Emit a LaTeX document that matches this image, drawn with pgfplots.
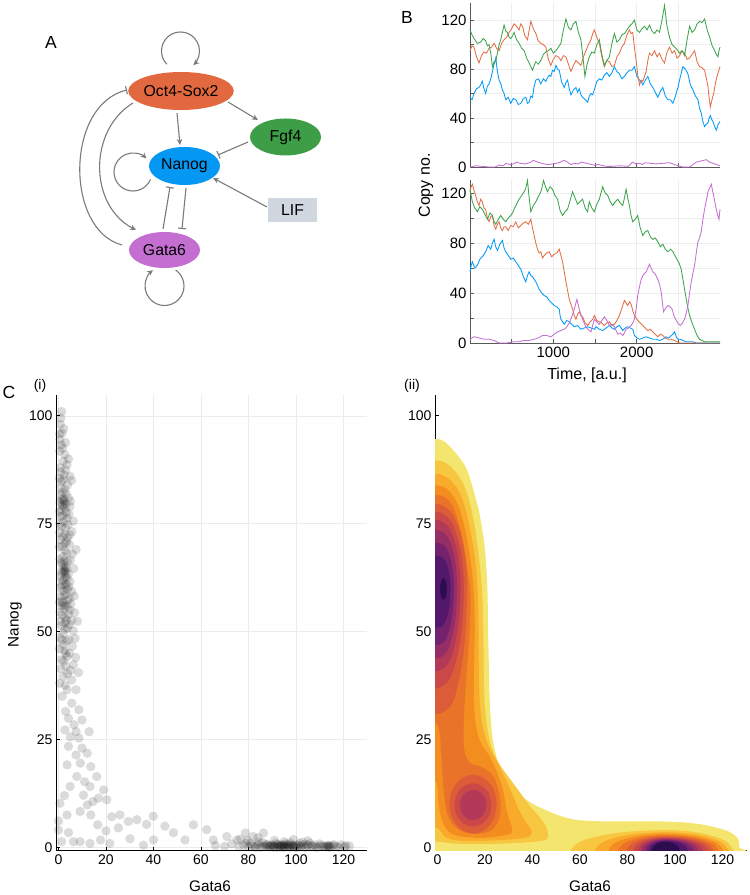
\documentclass[border=0pt]{standalone}
\usepackage{fontspec}
\setmainfont{Liberation Sans}
\usepackage{pgfplots}
\pgfplotsset{compat=1.18}
\usetikzlibrary{arrows.meta,shapes.geometric}
\definecolor{jblue}{HTML}{009AFA}
\definecolor{jorange}{HTML}{E26F46}
\definecolor{jgreen}{HTML}{3DA44D}
\definecolor{jpurple}{HTML}{C371D2}
\definecolor{noct}{HTML}{E2693F}
\definecolor{nfgf}{HTML}{3E9E48}
\definecolor{nnanog}{HTML}{0598F2}
\definecolor{ngata}{HTML}{C46ED2}
\definecolor{nlif}{HTML}{D0D7DF}
\definecolor{egray}{HTML}{7A7A7A}
\definecolor{c1}{HTML}{F3E56E}
\definecolor{c2}{HTML}{F8C741}
\definecolor{c3}{HTML}{F9AA2A}
\definecolor{c4}{HTML}{F48D20}
\definecolor{c5}{HTML}{EA732A}
\definecolor{c6}{HTML}{DC5B38}
\definecolor{c7}{HTML}{CA4848}
\definecolor{c8}{HTML}{B23A58}
\definecolor{c9}{HTML}{952D66}
\definecolor{c10}{HTML}{74216E}
\definecolor{c11}{HTML}{53176C}
\definecolor{c12}{HTML}{2B0D50}
\pgfplotsset{
  Bstyle/.style={scale only axis, width=250pt, xmin=0, xmax=3000, ymin=0,
    axis lines*=left, axis line style={black!65, line width=0.8pt},
    xtick={500,1000,1500,2000,2500}, ytick={0,20,40,60,80,100,120},
    yticklabels={0,,40,,80,,120}, grid=major, grid style={black!7, line width=0.5pt},
    tick align=inside, major tick length=3.5pt, tick style={black!65, line width=0.7pt},
    tick label style={font=\fontsize{15}{15}\selectfont}, clip=false},
  Cstyle/.style={scale only axis, height=456pt, ymin=-0.79, ymax=104.9, xmin=-1.05,
    axis lines*=left, axis line style={black, line width=0.9pt},
    xtick={0,20,40,60,80,100,120}, ytick={0,25,50,75,100},
    xticklabels={0,20,40,60,80,100,120}, yticklabels={0,25,50,75,100},
    tick align=inside, major tick length=4pt, tick style={black, line width=0.7pt},
    tick label style={font=\fontsize{14}{14}\selectfont}},
  ts/.style={line width=0.85pt},
  lev/.style={draw=none, fill=#1, smooth, tension=0.55}
}
\begin{document}
\begin{tikzpicture}
\useasboundingbox (0pt,0pt) rectangle (750pt,895pt);
% ---------------- Panel A and free labels ----------------
\begin{scope}[x=1pt,y=1pt]
\node[font=\fontsize{17.5}{17.5}\selectfont] at (51,853) {A};
\tikzset{nd/.style={ellipse, inner sep=0pt, font=\fontsize{15.8}{16}\selectfont},
  act/.style={draw=egray, line width=1.1pt, -{Stealth[length=6pt, width=5.5pt]}},
  inh/.style={draw=egray, line width=1.1pt, -{Bar[width=8pt, line width=1.1pt]}}}
\node[nd, fill=noct, minimum width=102pt, minimum height=38pt] at (181,804) {Oct4-Sox2};
\node[nd, fill=nfgf, minimum width=71pt, minimum height=37pt] at (285.5,758) {Fgf4};
\node[nd, fill=nnanog, minimum width=71pt, minimum height=38pt] at (184.5,729) {Nanog};
\node[rectangle, fill=nlif, minimum width=49pt, minimum height=24pt, inner sep=0pt, font=\fontsize{15.8}{16}\selectfont] at (292.5,685) {LIF};
\node[nd, fill=ngata, minimum width=71pt, minimum height=36pt] at (164.5,645) {Gata6};
\draw[act] (177,782) -- (180,750);
\draw[act] (228,793) -- (258,775);
\draw[inh] (248,753) -- (218,740);
\draw[act] (267,688) -- (213,717);
\draw[inh] (163,666) -- (170,708);
\draw[inh] (186,707) -- (182,666);
\draw[act] (133,792) .. controls (88.5,765) and (88.5,690) .. (136,665);
\draw[inh] (122,650) .. controls (65,665) and (65,790) .. (127,805);
\draw[act] (180.5,844) ++(224:19pt) arc[start angle=224, end angle=-48, radius=19pt];
\draw[act] (133,723) ++(-23:19pt) arc[start angle=-23, end angle=-315, radius=19pt];
\draw[act] (164.5,609) ++(55:19.5pt) arc[start angle=55, end angle=-234, radius=19.5pt];
\node[font=\fontsize{17.5}{17.5}\selectfont] at (407,878) {B};
\node[rotate=90, font=\fontsize{16}{16}\selectfont] at (426,709.5) {Copy no.};
\node[font=\fontsize{16}{16}\selectfont] at (587,520) {Time, [a.u.]};
\node[font=\fontsize{17.5}{17.5}\selectfont] at (9,503) {C};
\node[font=\fontsize{14}{14}\selectfont] at (40,509) {(i)};
\node[font=\fontsize{14}{14}\selectfont] at (412,509) {(ii)};
\node[rotate=90, font=\fontsize{15.3}{16}\selectfont] at (15,270) {Nanog};
\node[font=\fontsize{15.3}{16}\selectfont] at (210,9) {Gata6};
\node[font=\fontsize{15.3}{16}\selectfont] at (590,9) {Gata6};
\end{scope}
% ---------------- Panel B ----------------
\begin{axis}[at={(470pt,728pt)}, anchor=south west, Bstyle, height=164pt, ymax=134, xticklabels={}]
\addplot[ts, jblue] coordinates {(0,57)(24,55)(48,60)(78,64)(108,65)(128,67)(148,70)(168,64)(188,60)(208,66)(229,68)(249,72)(269,78)(289,84)(309,89)(329,78)(349,71)(369,68)(389,63)(409,60)(429,55)(459,57)(489,52)(519,56)(549,55)(580,51)(610,52)(640,56)(670,57)(690,52)(710,53)(730,58)(750,57)(770,66)(790,71)(820,72)(850,68)(880,72)(910,70)(930,73)(950,75)(970,74)(990,79)(1010,78)(1031,83)(1051,80)(1071,79)(1101,69)(1131,65)(1151,69)(1171,71)(1191,64)(1211,59)(1241,63)(1271,65)(1291,61)(1311,64)(1331,59)(1351,57)(1382,55)(1412,53)(1432,58)(1452,60)(1472,59)(1492,63)(1522,70)(1552,72)(1582,71)(1612,75)(1642,77)(1673,74)(1703,77)(1733,82)(1763,78)(1793,76)(1823,72)(1853,74)(1883,77)(1913,79)(1943,79)(1973,82)(2003,74)(2034,71)(2054,70)(2074,67)(2104,71)(2134,74)(2164,68)(2194,65)(2224,61)(2254,57)(2284,62)(2314,65)(2344,58)(2374,55)(2404,55)(2435,52)(2465,58)(2495,65)(2525,74)(2555,82)(2585,80)(2615,76)(2645,67)(2675,63)(2705,58)(2735,55)(2755,48)(2775,44)(2795,37)(2815,33)(2835,35)(2855,36)(2870,40)(2884,42)(2900,39)(2916,37)(2936,33)(2956,30)(2978,35)(3000,37)};
\addplot[ts, jorange] coordinates {(0,95)(24,99)(48,98)(78,90)(108,85)(138,91)(168,94)(198,93)(229,97)(259,98)(289,101)(319,97)(349,95)(379,101)(409,104)(439,106)(469,110)(499,113)(529,117)(559,115)(589,112)(610,117)(630,115)(660,107)(690,104)(710,112)(730,119)(760,113)(790,109)(820,103)(850,101)(880,100)(910,98)(940,88)(970,83)(1000,88)(1031,91)(1061,90)(1091,87)(1121,91)(1151,90)(1181,84)(1211,78)(1241,83)(1271,87)(1301,85)(1331,83)(1361,90)(1391,95)(1421,100)(1452,104)(1472,109)(1492,112)(1522,106)(1552,101)(1582,90)(1612,82)(1642,87)(1673,86)(1703,82)(1733,83)(1763,90)(1793,93)(1823,98)(1853,101)(1883,108)(1913,112)(1933,109)(1953,110)(1973,98)(1993,87)(2014,75)(2034,67)(2054,71)(2074,70)(2094,74)(2114,78)(2134,87)(2154,93)(2184,91)(2214,95)(2244,90)(2274,93)(2304,88)(2334,85)(2364,94)(2394,98)(2425,93)(2455,95)(2485,89)(2515,91)(2545,95)(2575,93)(2605,88)(2635,89)(2665,92)(2695,95)(2725,86)(2755,82)(2785,81)(2815,79)(2835,73)(2855,66)(2870,56)(2884,49)(2904,55)(2924,60)(2944,68)(2964,74)(2982,78)(3000,82)};
\addplot[ts, jgreen] coordinates {(0,112)(24,108)(48,105)(88,101)(128,102)(158,105)(188,103)(208,99)(229,100)(249,93)(269,82)(289,86)(309,86)(319,90)(329,93)(349,100)(369,104)(389,110)(409,116)(429,111)(449,110)(469,106)(489,105)(509,107)(529,110)(559,104)(589,101)(620,97)(650,95)(680,89)(710,85)(730,82)(750,79)(770,83)(790,86)(820,84)(850,87)(880,92)(910,94)(940,95)(970,97)(1000,93)(1031,95)(1061,98)(1091,101)(1121,112)(1151,121)(1181,114)(1211,112)(1241,117)(1271,119)(1301,110)(1331,104)(1355,90)(1379,74)(1405,84)(1432,90)(1462,94)(1492,93)(1522,100)(1552,104)(1582,92)(1612,83)(1642,87)(1673,90)(1703,101)(1733,109)(1763,102)(1793,104)(1823,108)(1853,109)(1883,112)(1913,115)(1943,117)(1973,120)(2003,112)(2034,110)(2064,113)(2094,115)(2124,112)(2154,116)(2184,111)(2214,109)(2244,112)(2274,110)(2304,120)(2334,132)(2364,115)(2394,106)(2425,100)(2455,98)(2485,96)(2515,93)(2545,95)(2575,91)(2605,104)(2635,115)(2665,110)(2695,112)(2725,117)(2755,119)(2785,118)(2815,121)(2846,112)(2876,106)(2906,99)(2936,95)(2956,92)(2976,90)(2988,95)(3000,98)};
\addplot[ts, jpurple] coordinates {(0,0)(75,1)(150,0.5)(225,0)(300,0)(350,1.5)(400,1)(430,3)(475,2)(520,2.5)(560,4)(600,3)(665,2.5)(730,4)(760,5.5)(810,4)(860,3)(930,2)(1000,2.5)(1065,3.5)(1130,5.5)(1170,4)(1211,2)(1255,3)(1300,2.5)(1335,4)(1370,3.5)(1430,2.5)(1490,1.5)(1545,2)(1600,1)(1650,0.5)(1700,0.5)(1800,1)(1900,0.5)(1953,4)(1990,2.5)(2034,3)(2067,2)(2100,3.5)(2167,3)(2234,2.5)(2314,3)(2394,3.5)(2475,1.5)(2555,0)(2635,0)(2675,2)(2715,4)(2775,5)(2835,6)(2875,4)(2916,3)(2958,2)(3000,1)};
\end{axis}
\begin{axis}[at={(470pt,552pt)}, anchor=south west, Bstyle, height=163pt, ymax=130.4, xticklabels={,1000,,2000,}]
\addplot[ts, jblue] coordinates {(0,57)(14,62)(28,65)(58,60)(88,62)(118,67)(148,69)(168,71)(188,73)(218,78)(249,75)(269,80)(289,83)(309,77)(329,74)(359,79)(389,82)(409,76)(429,73)(459,70)(489,67)(519,68)(549,65)(580,62)(610,59)(640,53)(670,49)(690,54)(710,57)(730,54)(750,53)(770,51)(790,49)(810,46)(830,43)(860,40)(890,38)(920,37)(950,34)(980,32)(1011,30)(1041,29)(1071,27)(1081,22)(1091,19)(1111,17)(1131,15)(1161,18)(1191,17)(1221,15)(1251,13)(1291,14)(1331,11)(1371,12)(1412,13)(1452,12)(1492,11)(1512,13)(1552,11)(1592,10)(1632,12)(1673,14)(1703,12)(1733,11)(1763,13)(1793,14)(1813,12)(1833,10)(1863,12)(1893,13)(1923,12)(1953,11)(1973,6)(2003,4)(2034,3)(2074,4)(2114,5)(2154,4)(2194,3)(2234,3)(2274,2)(2314,3)(2354,5)(2385,4)(2415,6)(2435,7)(2455,9)(2475,5)(2495,3)(2525,3)(2555,2)(2595,1)(2635,1)(2675,1)(2715,0)(3000,0)};
\addplot[ts, jorange] coordinates {(0,121)(14,125)(28,127)(48,122)(68,118)(88,113)(108,110)(128,115)(148,113)(168,108)(188,107)(208,100)(229,97)(249,101)(269,102)(289,94)(309,91)(329,95)(349,97)(369,92)(389,90)(409,93)(429,93)(459,90)(489,94)(519,93)(549,97)(580,92)(610,94)(640,96)(670,97)(700,95)(730,99)(750,92)(770,86)(790,80)(810,75)(830,72)(850,73)(870,68)(890,70)(920,72)(950,73)(980,69)(1011,71)(1041,72)(1071,75)(1091,70)(1111,65)(1131,57)(1151,49)(1171,42)(1191,35)(1211,31)(1231,27)(1251,22)(1271,19)(1291,23)(1311,25)(1331,22)(1351,21)(1382,16)(1412,14)(1442,17)(1472,19)(1492,22)(1522,18)(1552,17)(1582,16)(1612,14)(1642,16)(1673,17)(1703,14)(1733,15)(1763,18)(1793,22)(1823,28)(1853,34)(1873,32)(1893,30)(1913,33)(1933,31)(1953,26)(1973,22)(1993,20)(2013,18)(2043,16)(2074,14)(2104,12)(2134,10)(2164,11)(2194,9)(2224,7)(2254,5)(2284,7)(2314,6)(2344,4)(2374,3)(2415,3)(2455,2)(2485,1)(2515,0)(3000,0)};
\addplot[ts, jgreen] coordinates {(0,123)(14,118)(28,113)(58,108)(88,105)(118,109)(148,107)(178,103)(209,99)(239,104)(269,102)(289,97)(309,95)(339,99)(369,102)(399,99)(429,97)(459,100)(489,102)(509,104)(529,107)(559,111)(589,115)(620,118)(650,121)(670,124)(690,130)(710,116)(730,105)(760,110)(790,113)(820,117)(850,121)(866,125)(882,130)(906,125)(930,121)(960,125)(990,123)(1020,118)(1051,115)(1081,106)(1111,102)(1141,105)(1171,107)(1201,114)(1231,121)(1261,116)(1291,111)(1321,113)(1351,115)(1382,108)(1412,105)(1422,110)(1432,113)(1462,108)(1492,105)(1522,111)(1552,115)(1572,120)(1592,125)(1622,120)(1653,118)(1683,113)(1713,110)(1743,113)(1773,115)(1803,112)(1833,110)(1853,116)(1873,123)(1893,116)(1913,110)(1933,102)(1953,97)(1983,99)(2013,102)(2043,92)(2074,86)(2104,89)(2134,90)(2164,85)(2194,83)(2224,84)(2254,81)(2284,77)(2314,79)(2344,75)(2374,73)(2405,75)(2435,73)(2459,70)(2483,67)(2509,64)(2535,59)(2565,47)(2595,35)(2615,28)(2635,22)(2665,16)(2695,11)(2725,6)(2755,3)(2785,2)(2815,1)(2900,1)(3000,1)};
\addplot[ts, jpurple] coordinates {(0,3)(24,4)(48,5)(108,4)(168,3)(228,3)(289,2)(319,1)(349,0)(439,0)(529,1)(590,1)(650,2)(710,2)(770,3)(820,4)(870,6)(920,6)(970,5)(1010,7)(1051,9)(1091,10)(1131,11)(1151,12)(1171,14)(1191,16)(1211,19)(1231,23)(1251,27)(1267,31)(1283,35)(1297,31)(1311,27)(1331,23)(1351,19)(1382,14)(1412,11)(1432,10)(1452,9)(1472,14)(1492,19)(1522,17)(1552,15)(1582,18)(1612,21)(1642,18)(1673,14)(1703,15)(1733,13)(1753,10)(1773,7)(1803,8)(1833,6)(1853,8)(1873,11)(1903,12)(1933,14)(1953,16)(1973,19)(1993,27)(2013,38)(2034,45)(2054,51)(2084,55)(2114,57)(2134,60)(2154,63)(2174,60)(2194,57)(2224,55)(2254,51)(2274,47)(2294,41)(2308,33)(2322,25)(2348,28)(2374,30)(2400,29)(2426,27)(2446,22)(2467,19)(2495,16)(2523,14)(2549,16)(2575,19)(2595,24)(2615,30)(2635,40)(2655,49)(2675,56)(2695,62)(2715,72)(2735,81)(2755,84)(2775,89)(2795,99)(2815,107)(2836,114)(2856,121)(2876,124)(2896,127)(2910,122)(2924,118)(2940,112)(2956,107)(2972,102)(2988,99)(3000,107)};
\end{axis}
% ---------------- Panel C (i) ----------------
\begin{axis}[at={(56pt,44.3pt)}, anchor=south west, Cstyle, width=311pt, xmax=129.9,
  grid=major, grid style={black!8, line width=0.5pt}]
\addplot[only marks, mark=*, mark size=4.7pt, draw opacity=0, mark options={solid, fill=black, fill opacity=0.14, draw opacity=0}] coordinates {
(1.3,101)(0.8,98)(1.5,96)(0.6,94.5)(2.7,91)(1.2,93.3)(0.5,91.8)(2,89.5)(3.6,88.7)(0.8,88)
(4.8,86)(1.3,84.8)(2.5,86.3)(0.4,85.5)(2.7,83)(3.8,84)(0.8,81.7)(1.8,82.3)(2.2,80.8)(4.2,81)(0.6,80)(3,79.6)(2,80)(1.6,79.4)(2.4,80.4)
(2,79)(4.8,79)(1.2,78.2)(3.2,77.6)(0.8,76.7)(3.6,76.3)(2.2,75.5)(5.6,73.2)(1.3,74.4)(4,74.8)(0.5,73)(2.6,72.6)(3.8,71.8)(0.8,71.3)(2.7,70.5)(4.6,70.2)(1.6,69.8)
(7.4,69)(2,67.4)(3.5,68.2)(0.6,66.8)(5,66.5)(1.8,65.6)(2.7,64)(3.4,64.6)(2,63.8)(4.2,63.4)(0.8,62.8)(2.9,62.6)(1.6,61.8)(4.8,61.6)(3.2,61)(2.7,60.5)(0.9,60.2)(5.6,59.3)(3.8,59.8)(2,59.4)(0.8,58.1)(2.5,64.2)(3,63.6)(2.2,64.8)(2.8,65.2)
(3,58.6)(4.6,57.6)(1.5,57)(3.6,55.8)(5.2,56.4)(2.3,55.2)(0.6,54.5)(4.2,54)(2.8,53.2)(8,52.4)(2.7,52)(5.6,52.6)(1.2,51.4)(3.8,50.8)(2,49.6)(6.2,50.2)(1.5,56)(2,56.6)
(0.8,48.6)(4.4,48.2)(2,46.9)(5.8,46.6)(3.6,44.2)(1.3,43.5)(6.3,42.3)(3,42)(2,39.6)(5.6,38.8)(8.4,40.5)(3,45)(2.4,45.6)
(1,99.5)(2.2,97)(0.5,95.8)(3,93.8)(1.8,92.5)(4.2,90)(1,87)(3,87.5)(5.5,85)(2,85.2)(0.8,83.4)(3.2,82)(5,80.2)(1.4,80.6)(2.8,78.6)(0.4,77.8)(4.4,77.2)(1.8,76.8)(6.2,75.6)(3,74)(0.6,75)(4.8,72.4)(1.8,72)(3.4,70.8)(0.4,69.6)(5.8,68)(2.6,68.8)(1.2,66)(3.8,66.2)(2.4,66.4)(6.4,64.6)(1.2,63.8)(3.6,62.4)(2.2,62)(1.4,60.8)(4.4,60.4)(2.4,58.4)(6.6,58.2)(0.4,56.8)(3.8,57.2)(2.6,56)(4.8,55)(1.6,53.8)(3.4,52.6)(6.8,54.4)(0.8,52.4)(4.6,51.6)(2.6,50.6)(1.4,48)(3.4,47.8)(7,48.4)(0.4,46)(4.6,45)(2.2,43.2)(5,41)(1,41.4)(3.8,40.2)(7.2,44)(0.5,38)(2.8,37.6)
(3.6,36.5)(7.4,36.5)(1.5,35)(5.6,33.4)(8.6,31.9)(3,31.5)(4.2,29.9)(9.9,29.5)(6.5,28.4)(2.7,27.2)(7.4,26.8)(12.9,26.8)(8.6,25.3)(5,25.6)
(4.2,23.4)(9.9,23)(7.4,21.4)(12.1,21.8)(9.2,19.5)(13.6,18.7)(3.6,19.1)(16.1,16.4)(7.7,16.4)(11,15.2)(4.9,14.1)(13.3,14.1)(10.5,12.1)(19,13.3)(16.8,11.4)(20.3,11)(12.1,9.8)(14.5,10.6)(0.6,10.2)(2.5,12)
(22.4,7.1)(13.6,7.5)(9.1,8.3)(25.9,7.5)(29.4,6)(33,6.4)(25.2,4.5)(37.1,5.3)(39.9,7.2)(48.4,3.4)(44.8,4.9)(56.8,5.2)(62.4,4.1)(78.7,3.3)(86.3,3.3)(82,2.5)(16.5,5.2)(3.6,7.5)(0,6.1)(0,4)(4.2,3.4)(20,3.8)
(1.3,1.3)(6.3,1.3)(13.3,0.9)(9.1,1.3)(17.7,1.7)(21.6,0.9)(30.1,2)(35.8,0.5)(40,1.7)(53.3,1.7)(65.2,1.7)(70.9,2.5)(75.2,1.7)(66,0.4)(70,0.2)(73,0.8)(76,0.1)
(78,0.5)(80,0.1)(81,0.9)(82.5,0.3)(84,0.6)(85,0)(86,1.1)(87,0.3)(88,0.7)(89,0.1)(90,0.5)(90.8,0.2)(91.5,0.9)(92,0)(92.6,0.4)(93.2,0.1)(94,0.6)(94.5,0)(95,0.3)(95.6,0.8)(96.2,0.1)(97,0.4)(97.5,0)(98,0.6)(99,0.2)(100,0.5)(100.6,0)(101.5,0.9)(102,0.3)(103,0.6)(104,0)(105,0.4)(106,0.9)(107,0.2)(108,0.5)(109.5,0.1)(110,0.8)(111.5,0.3)(113,0.1)(113.5,0.5)(114,0)(115.5,0.4)(117,0.2)(119,0.6)(120.5,0.1)(122.5,0.3)(76.5,1.9)(79.5,1.6)(84,2.2)(99,1.8)(105,1.5)(91,1.6)
(89,0.3)(91,0.4)(93,0.2)(95,0.5)(97,0.2)(99,0.4)(113.2,0.3)(113.8,0.2)(88,0.2)(94,0.3)
(86,0.2)(87.5,0.6)(89.5,0.4)(90.5,0)(92.3,0.7)(93.8,0.4)(95.3,0.1)(96.5,0.6)(98.5,0.3)(99.5,0)(101,0.4)(102.5,0.1)(104.5,0.6)(106.5,0.3)(108.5,0)(110.5,0.4)(112,0.2)(114.5,0.3)(116,0.6)(118,0)(121,0.4)(83,0)(84.5,1.2)(81.5,0.4)(79,1)(95,1.3)(97.5,1.1)(102.8,1.2)};
\end{axis}
% ---------------- Panel C (ii) ----------------
\begin{axis}[at={(435pt,44.3pt)}, anchor=south west, Cstyle, width=311.7pt, xmax=130.2]
\addplot[lev=c1] coordinates {(-5,94.5)(1.3,94.5)(5,93)(8.8,90.6)(12,88)(14.3,84.4)(16.5,80)(17.9,76.7)(20,69)(21,59.7)(21.4,48)(21.8,38)(22.1,32.6)(23,26)(24.2,22.5)(26,18.5)(28.4,15.6)(31.5,13.5)(35.4,11.8)(40,10.1)(45.3,8.7)(51,7.4)(57.9,6.4)(65,6.1)(71.9,6)(85,6)(92.9,6)(103,5.8)(111.2,5.3)(117,4.6)(122.5,3.7)(125.3,2.7)(126.7,1.8)(127,0)(126.5,-3)(-5,-3)};
\addplot[lev=c2] coordinates {(-5,89.6)(1,89.6)(5,88.5)(9,86)(12.5,82)(15.5,75)(17.5,67)(18.8,59)(19.3,50)(19.5,40)(20,32)(21.5,26)(23.5,22)(27,18.5)(31,15.5)(35,12.5)(39,9.5)(43,7)(46,4.5)(46.5,2.5)(44,1.5)(30,0.9)(10,0.8)(2,1.2)(-5,1.5)};
\addplot[lev=c2] coordinates {(124.6,-3)(124.6,-0.8)(120.8,1.6)(110.3,3.36)(96,4.0)(76,3.36)(61.4,1.6)(56,-0.8)(56,-3)};
\addplot[lev=c3] coordinates {(-5,86.5)(1,86.5)(5,85.3)(8.5,83)(11.5,79)(14,73)(16,66)(17,58)(17.3,50)(17.4,42)(17.8,34)(19,28)(21.5,23.5)(25,20)(28,16.5)(31,13)(34,9)(37,6)(39.5,4)(39,2.6)(34,2)(20,1.5)(8,1.6)(3,2.5)(1,4)(-5,6)};
\addplot[lev=c3] coordinates {(122.5,-3)(122.5,-0.8)(118.9,1.35)(109.25,2.92)(96,3.5)(81.1,2.92)(70.2,1.35)(66.2,-0.8)(66.2,-3)};
\addplot[lev=c4] coordinates {(-5,83.8)(1,83.8)(5,82.5)(8.5,79.5)(11.5,74)(13.8,67)(15.2,60)(15.7,52)(15.5,44)(15.3,36)(16,29)(18,24.5)(22,21)(25,17.5)(27.5,13.5)(29,9)(30.5,6)(31.5,4.2)(30,3)(20,2.2)(10,2.5)(5,3.5)(2,6)(0.5,10)(-0.5,15)(-5,18)};
\addplot[lev=c4] coordinates {(120.4,-3)(120.4,-0.8)(117.1,1.15)(108.2,2.58)(96,3.1)(83.95,2.58)(75.1,1.15)(71.9,-0.8)(71.9,-3)};
\addplot[lev=c5] coordinates {(-5,81.6)(1,81.6)(6,79.5)(10,73)(12.5,65)(13.9,58)(13.5,50)(12.5,42)(11.5,34)(11,27)(11.5,22)(14,19.5)(19,18.5)(23.5,16.5)(26,12.5)(26.5,8)(24,4.6)(19,3.2)(12,3.4)(7,5)(4,8)(2.5,14)(1.5,22)(0.3,28)(-5,30)};
\addplot[lev=c5] coordinates {(118.3,-3)(118.3,-0.8)(115.3,1.0)(107.15,2.32)(96,2.8)(86.05,2.32)(78.8,1.0)(76.1,-0.8)(76.1,-3)};
\addplot[lev=c6] coordinates {(-5,79.5)(1,79.5)(6.75,76.9)(10.96,69.75)(12.5,60)(10.96,45)(6.75,34)(1,31)(-5,31)};
\addplot[lev=c6] coordinates {(25,10)(23.66,13.4)(20,15.9)(15,16.8)(10,15.9)(6.34,13.4)(5,10)(6.34,6.6)(10,4.1)(15,3.2)(20,4.1)(23.66,6.6)(25,10)};
\addplot[lev=c6] coordinates {(116.2,-3)(116.2,-0.8)(113.5,0.85)(106.1,2.06)(96,2.5)(87.8,2.06)(81.8,0.85)(79.6,-0.8)(79.6,-3)};
\addplot[lev=c7] coordinates {(-5,77.6)(1,77.6)(6.05,75.2)(9.75,68.8)(11.1,60)(9.75,48.5)(6.05,40.1)(1,37)(-5,37)};
\addplot[lev=c7] coordinates {(22.8,9.8)(21.75,12.3)(18.9,14.13)(15,14.8)(11.1,14.13)(8.25,12.3)(7.2,9.8)(8.25,7.3)(11.1,5.47)(15,4.8)(18.9,5.47)(21.75,7.3)(22.8,9.8)};
\addplot[lev=c7] coordinates {(114,-3)(114,-0.8)(111.6,0.75)(105,1.88)(96,2.3)(89.2,1.88)(84.2,0.75)(82.4,-0.8)(82.4,-3)};
\addplot[lev=c8] coordinates {(-5,75.7)(1,75.7)(5.35,73.6)(8.53,67.85)(9.7,60)(8.53,50.5)(5.35,43.5)(1,41)(-5,41)};
\addplot[lev=c8] coordinates {(20.6,9.8)(19.85,11.55)(17.8,12.83)(15,13.3)(12.2,12.83)(10.15,11.55)(9.4,9.8)(10.15,8.05)(12.2,6.77)(15,6.3)(17.8,6.77)(19.85,8.05)(20.6,9.8)};
\addplot[lev=c8] coordinates {(111.9,-3)(111.9,-0.8)(109.8,0.65)(103.95,1.71)(96,2.1)(90.25,1.71)(86.05,0.65)(84.5,-0.8)(84.5,-3)};
\addplot[lev=c9] coordinates {(-5,73.4)(1,73.4)(4.65,71.6)(7.32,66.7)(8.3,60)(7.32,52)(4.65,46.1)(1,44)(-5,44)};
\addplot[lev=c9] coordinates {(109.8,-3)(109.8,-0.8)(107.95,0.55)(102.9,1.54)(96,1.9)(91,1.54)(87.3,0.55)(86,-0.8)(86,-3)};
\addplot[lev=c10] coordinates {(-5,70.5)(1,70.5)(3.95,69.1)(6.1,65.25)(6.9,60)(6.1,53.5)(3.95,48.7)(1,47)(-5,47)};
\addplot[lev=c10] coordinates {(107.7,-3)(107.7,-0.8)(106.1,0.45)(101.85,1.37)(96,1.7)(91.75,1.37)(88.6,0.45)(87.5,-0.8)(87.5,-3)};
\addplot[lev=c11] coordinates {(-5,67.4)(1,67.4)(3.25,66.4)(4.9,63.7)(5.5,60)(4.9,55.5)(3.25,52.2)(1,51)(-5,51)};
\addplot[lev=c11] coordinates {(105.5,-3)(105.5,-0.8)(104.2,0.35)(100.75,1.19)(96,1.5)(92.5,1.19)(89.9,0.35)(89,-0.8)(89,-3)};
\addplot[lev=c12] coordinates {(2.5,62.4)(3.2,62.1)(3.7,61.15)(3.9,59.9)(3.7,58.65)(3.2,57.7)(2.5,57.4)(1.8,57.7)(1.3,58.65)(1.1,59.9)(1.3,61.15)(1.8,62.1)(2.5,62.4)};
\addplot[lev=c12] coordinates {(102.1,-3)(102.1,-0.8)(101.3,0.25)(99.05,1.02)(96,1.3)(93.1,1.02)(91,0.25)(90.2,-0.8)(90.2,-3)};
\end{axis}
\end{tikzpicture}
\end{document}
